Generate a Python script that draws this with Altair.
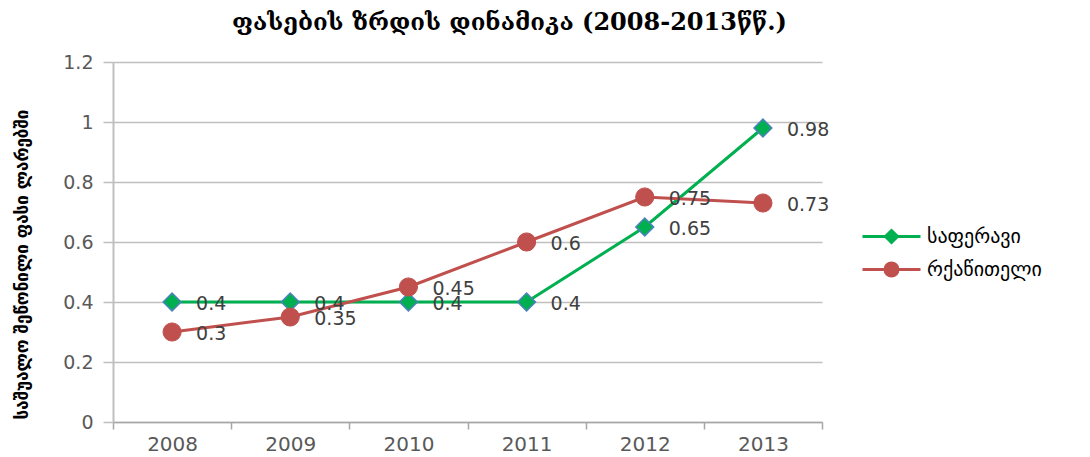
import altair as alt
import pandas as pd

# Average weighted price (GEL) of two grape varieties, 2008-2013
years = ["2008", "2009", "2010", "2011", "2012", "2013"]
saperavi = [0.4, 0.4, 0.4, 0.4, 0.65, 0.98]
rkatsiteli = [0.3, 0.35, 0.45, 0.6, 0.75, 0.73]
series_names = ["საფერავი", "რქაწითელი"]
series_colors = ["#00B050", "#C0504D"]
y_ticks = [0, 0.2, 0.4, 0.6, 0.8, 1.0, 1.2]

title_text = "ფასების ზრდის დინამიკა (2008-2013წწ.)"
y_title = "საშუალო შეწონილი ფასი ლარებში"

rows = []
for name, vals in zip(series_names, [saperavi, rkatsiteli]):
    for yr, v in zip(years, vals):
        rows.append({"year": yr, "series": name, "value": v})
df = pd.DataFrame(rows)

x_enc = alt.X(
    "year:O",
    sort=years,
    scale=alt.Scale(type="band", paddingInner=0, paddingOuter=0),
    axis=alt.Axis(
        title=None,
        labelAngle=0,
        tickBand="extent",
        labelFont="DejaVu Sans",
        labelFontSize=20,
        labelColor="#595959",
        labelPadding=5,
        tickSize=7,
        tickColor="#A6A6A6",
        domainColor="#A6A6A6",
        domainWidth=1.5,
        tickWidth=1.5,
        grid=False,
    ),
)
y_enc = alt.Y(
    "value:Q",
    scale=alt.Scale(domain=[0, 1.2], nice=False),
    axis=alt.Axis(
        values=y_ticks,
        format="~g",
        title=y_title,
        titleFont="DejaVu Sans",
        titleFontSize=17,
        titleFontWeight="bold",
        titleColor="#000000",
        titleX=-82,
        titleY=202,
        titleAngle=-90,
        titleAlign="center",
        labelFont="DejaVu Sans",
        labelFontSize=19,
        labelColor="#595959",
        labelPadding=10,
        tickSize=10,
        tickColor="#BFBFBF",
        tickWidth=1.5,
        domainColor="#BFBFBF",
        domainWidth=2,
        gridColor="#BFBFBF",
        gridWidth=1.5,
    ),
)

base = alt.Chart(df)
sap = base.transform_filter(alt.datum.series == series_names[0])
rk = base.transform_filter(alt.datum.series == series_names[1])

sap_line = sap.mark_line(strokeWidth=3, color=series_colors[0]).encode(x=x_enc, y=y_enc)
rk_line = rk.mark_line(strokeWidth=3, color=series_colors[1]).encode(x=x_enc, y=y_enc)

sap_points = sap.mark_point(
    shape="diamond", filled=True, fill=series_colors[0], stroke="#4F81BD", strokeWidth=1.5, size=320, opacity=1
).encode(x=x_enc, y=y_enc)

rk_points = rk.mark_point(
    shape="circle", filled=True, fill=series_colors[1], stroke=series_colors[1], strokeWidth=1, size=330, opacity=1
).encode(x=x_enc, y=y_enc)

labels = base.mark_text(
    align="left", baseline="middle", dx=24, dy=2, font="DejaVu Sans", fontSize=19, color="#404040"
).encode(x=x_enc, y=y_enc, text=alt.Text("value:Q", format="~g"))

# Legend entries: a line with the series marker on it (this layer itself is transparent)
diamond_path = "M-2.9,0H2.9M0,-0.6L0.6,0L0,0.6L-0.6,0Z"
circle_path = "M-2.9,0H2.9M-0.65,0A0.65,0.65 0 1,0 0.65,0A0.65,0.65 0 1,0 -0.65,0Z"
legend_layer = base.mark_point(filled=True, opacity=0).encode(
    x=x_enc,
    y=y_enc,
    shape=alt.Shape(
        "series:N",
        scale=alt.Scale(domain=series_names, range=[diamond_path, circle_path]),
        legend=alt.Legend(
            title=None,
            orient="none",
            legendX=767,
            legendY=163,
            padding=0,
            symbolSize=400,
            symbolStrokeWidth=3,
            symbolOpacity=1,
            labelFont="DejaVu Sans",
            labelFontSize=20,
            labelColor="#000000",
            labelOffset=24,
            rowPadding=8,
        ),
    ),
    fill=alt.Fill("series:N", scale=alt.Scale(domain=series_names, range=series_colors)),
    stroke=alt.Stroke("series:N", scale=alt.Scale(domain=series_names, range=series_colors)),
)

chart = (
    alt.layer(sap_line, rk_line, sap_points, rk_points, labels, legend_layer)
    .properties(
        width=709,
        height=360,
        autosize=alt.AutoSizeParams(type="none"),
        padding={"left": 113, "top": 62, "right": 268, "bottom": 35},
        title=alt.TitleParams(
            title_text,
            font="DejaVu Serif",
            fontSize=24,
            fontWeight="bold",
            color="#000000",
            anchor="middle",
            dx=42,
            offset=18,
        ),
        background="#FFFFFF",
    )
    .configure_view(stroke=None)
)

chart.save("out.html", embed_options={"renderer": "svg", "actions": False})
